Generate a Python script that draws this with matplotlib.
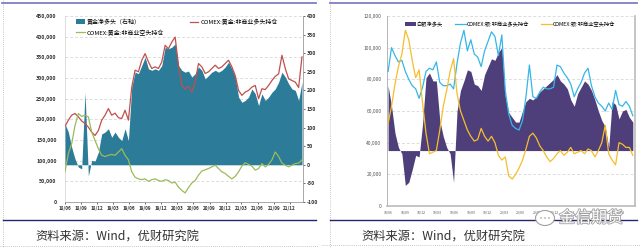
import numpy as np
import pandas as pd
import matplotlib
matplotlib.use('Agg')
import matplotlib.pyplot as plt
from matplotlib.ticker import FuncFormatter, MultipleLocator
from matplotlib.patches import Patch, Ellipse
from matplotlib.lines import Line2D
import matplotlib.patheffects as pe

plt.rcParams['font.family'] = ['Noto Sans CJK SC', 'DejaVu Sans']
plt.rcParams['axes.unicode_minus'] = False

# ---------------- data ----------------
dates = pd.date_range('2018-06-01', periods=72, freq='19D')
tick_dates = pd.date_range('2018-06-01', '2021-12-01', freq='3MS')
tick_labels = [d.strftime('%y/%m') for d in tick_dates]

# gold (left panel); long/short in thousand contracts (left axis), net on right axis
gold_long = [183, 198, 210, 214, 206, 196, 190, 181, 169, 161, 173, 198,
             210, 226, 210, 215, 204, 202, 222, 198, 278, 319, 315, 343,
             359, 339, 323, 327, 323, 339, 379, 371, 387, 399, 331, 282,
             274, 280, 266, 290, 335, 327, 311, 315, 323, 331, 323, 327,
             335, 343, 327, 306, 270, 258, 266, 270, 278, 282, 250, 274,
             272, 282, 294, 304, 310, 355, 323, 298, 294, 290, 277, 351]
gold_short = [73, 117, 141, 185, 214, 207, 210, 206, 169, 149, 129, 113,
              110, 113, 115, 113, 121, 129, 113, 102, 73, 60, 56, 54,
              56, 50, 54, 56, 52, 50, 54, 52, 46, 48, 36, 28,
              22, 35, 46, 52, 65, 75, 78, 81, 85, 89, 81, 73,
              69, 62, 56, 62, 73, 87, 95, 91, 87, 77, 81, 93,
              85, 91, 102, 121, 110, 94, 89, 85, 89, 93, 94, 102]
gold_net = [110, 88, 47, 16, -6, -11, 195, -30, 12, 10, 34, 83,
            88, 97, 74, 88, 74, 65, 97, 65, 209, 249, 245, 267,
            289, 258, 254, 258, 254, 267, 316, 312, 316, 325, 267, 254,
            249, 252, 236, 245, 263, 254, 231, 240, 249, 254, 249, 254,
            263, 276, 258, 236, 182, 168, 173, 182, 204, 191, 159, 191,
            173, 182, 195, 204, 222, 249, 236, 218, 204, 200, 173, 222]

# silver (right panel), thousand contracts
silver_long = [85, 100, 95, 91, 92, 85, 80, 76, 74, 68, 75, 85,
               87, 86, 91, 78, 76, 76, 77, 74, 90, 103, 111, 98,
               105, 96, 94, 88, 98, 104, 110, 107, 95, 108, 73, 58,
               51, 49, 48, 54, 69, 89, 69, 68, 72, 75, 74, 74,
               75, 89, 88, 84, 81, 77, 69, 74, 78, 84, 87, 76,
               69, 65, 63, 60, 65, 61, 73, 64, 63, 66, 63, 57]
silver_short = [52, 63, 77, 88, 96, 111, 105, 92, 81, 86, 65, 46,
                33, 34, 35, 48, 63, 73, 85, 93, 71, 60, 54, 48,
                44, 41, 42, 49, 44, 41, 44, 40, 32, 29, 31, 19,
                17, 20, 24, 29, 36, 44, 46, 43, 38, 35, 31, 28,
                30, 33, 35, 32, 34, 37, 33, 34, 35, 33, 36, 35,
                31, 35, 40, 51, 33, 29, 26, 40, 39, 37, 37, 32]
silver_net = [41, 28, 11, 2, -2, -22, -20, -12, -3, -4, 17, 46,
              49, 44, 44, 19, 9, 2, -2, -20, 25, 38, 44, 51,
              50, 42, 41, 38, 48, 53, 58, 57, 62, 65, 34, 24,
              21, 18, 18, 25, 31, 33, 32, 34, 37, 39, 41, 43,
              45, 48, 44, 42, 39, 32, 28, 36, 40, 44, 42, 38,
              32, 25, 19, 15, 2, 31, 29, 20, 25, 26, 21, 18]

gold_labels = ['黄金净多头（右轴）', 'COMEX:黄金:非商业空头持仓', 'COMEX:黄金:非商业多头持仓']
silver_labels = ['白银净多头', 'COMEX:银:非商业多头持仓', 'COMEX:银:非商业空头持仓']
caption = '资料来源：Wind，优财研究院'

C_TEAL = '#2C7B98'
C_RED = '#C0504D'
C_GREEN = '#9BBB59'
C_PURPLE = '#4E3F7B'
C_BLUE = '#35B6E8'
C_ORANGE = '#F7BE2B'

W, H = 640, 248
def fx(px):
    return px / W
def fy(py):
    return 1 - py / H

fig = plt.figure(figsize=(6.4, 2.48), dpi=100)
fig.patch.set_facecolor('white')
thousands = FuncFormatter(lambda v, p: f'{v:,.0f}')
grid_kw = dict(color='#cfcfcf', lw=0.5, ls=(0, (4, 3)))

# ================= LEFT PANEL =================
rectL = [fx(65), fy(202), fx(302.5) - fx(65), fy(16) - fy(202)]
ax = fig.add_axes(rectL)
ax.set_xlim(pd.Timestamp('2018-06-01'), pd.Timestamp('2022-02-12'))
ax.set_ylim(0, 450000)
ax.yaxis.set_major_locator(MultipleLocator(50000))
ax.yaxis.set_major_formatter(thousands)
ax.grid(axis='y', **grid_kw)
ax.set_xticks(tick_dates)
ax.set_xticklabels(tick_labels)
ax.tick_params(axis='x', labelsize=3.3, colors='#333333', length=1.5, width=0.5, pad=1.5)
ax.tick_params(axis='y', labelsize=3.8, colors='#333333', length=0, pad=6)
for t in ax.get_xticklabels() + ax.get_yticklabels():
    t.set_fontweight('bold')
for s in ['top', 'right']:
    ax.spines[s].set_visible(False)
ax.spines['left'].set_color('#d0d0d0')
ax.spines['left'].set_linewidth(0.5)
ax.spines['bottom'].set_color('#999999')
ax.spines['bottom'].set_linewidth(0.6)

axr = ax.twinx()
axr.set_ylim(-100, 400)
axr.yaxis.set_major_locator(MultipleLocator(50))
axr.fill_between(dates, 0, gold_net, color=C_TEAL, lw=0, zorder=2)
axr.tick_params(axis='y', labelsize=3.8, colors='#333333', length=1.5, width=0.5, pad=1.5)
for t in axr.get_yticklabels():
    t.set_fontweight('bold')
for s in ['top', 'left', 'bottom']:
    axr.spines[s].set_visible(False)
axr.spines['right'].set_color('#999999')
axr.spines['right'].set_linewidth(0.6)
axr.patch.set_visible(False)

axl = ax.twinx()
axl.set_ylim(0, 450000)
axl.axis('off')
axl.plot(dates, np.array(gold_long) * 1000, color=C_RED, lw=0.9)
axl.plot(dates, np.array(gold_short) * 1000, color=C_GREEN, lw=0.9)

hL = [Patch(facecolor=C_TEAL, edgecolor='none'),
      Line2D([], [], color=C_GREEN, lw=0.9),
      Line2D([], [], color=C_RED, lw=0.9)]
fig.legend(hL, gold_labels, ncol=2, loc='upper left',
           bbox_to_anchor=(fx(76), fy(18.5)), bbox_transform=fig.transFigure,
           frameon=False, fontsize=4.3, handlelength=1.5, handleheight=0.9,
           handletextpad=0.35, columnspacing=4.2, labelspacing=0.75,
           borderpad=0, borderaxespad=0)

# clip right-axis labels of left panel like the screenshot
fig.add_artist(plt.Rectangle((fx(317.5), 0), fx(12), 1, transform=fig.transFigure,
                             facecolor='white', edgecolor='none', zorder=5))

# ================= RIGHT PANEL =================
rectR = [fx(387), fy(206), fx(635) - fx(387), fy(16) - fy(206)]
bx = fig.add_axes(rectR)
bx.set_xlim(pd.Timestamp('2018-05-26'), pd.Timestamp('2022-02-21'))
bx.set_ylim(0, 120000)
bx.yaxis.set_major_locator(MultipleLocator(20000))
bx.yaxis.set_major_formatter(thousands)
bx.grid(axis='y', **grid_kw)
bx.set_xticks(tick_dates)
bx.set_xticklabels(tick_labels)
bx.tick_params(axis='x', labelsize=2.5, colors='#555555', length=0, pad=3)
bx.tick_params(axis='y', labelsize=3.5, colors='#555555', length=0, pad=4)
bx.spines['top'].set_visible(False)
bx.spines['left'].set_color('#aaaaaa')
bx.spines['left'].set_linewidth(0.6)
bx.spines['bottom'].set_color('#bbbbbb')
bx.spines['bottom'].set_linewidth(1.2)
bx.spines['right'].set_color('#bbbbbb')
bx.spines['right'].set_linewidth(1.2)

bxr = bx.twinx()
bxr.set_ylim(-35000, 85000)
bxr.axis('off')
bxr.fill_between(dates, 0, np.array(silver_net) * 1000, color=C_PURPLE, lw=0, zorder=2)

bxl = bx.twinx()
bxl.set_ylim(0, 120000)
bxl.axis('off')
bxl.plot(dates, np.array(silver_long) * 1000, color=C_BLUE, lw=0.9)
bxl.plot(dates, np.array(silver_short) * 1000, color=C_ORANGE, lw=0.9)

hR = [Patch(facecolor=C_PURPLE, edgecolor='none'),
      Line2D([], [], color=C_BLUE, lw=0.9),
      Line2D([], [], color=C_ORANGE, lw=0.9)]
fig.legend(hR, silver_labels, ncol=3, loc='upper left',
           bbox_to_anchor=(fx(405), fy(21.5)), bbox_transform=fig.transFigure,
           frameon=False, fontsize=3.8, handlelength=2.0, handleheight=0.9,
           handletextpad=0.2, columnspacing=2.3,
           borderpad=0, borderaxespad=0)

# ================= frame decorations =================
def hline(x0, x1, y, **kw):
    fig.add_artist(Line2D([fx(x0), fx(x1)], [fy(y), fy(y)], transform=fig.transFigure, **kw))
def vline(x, y0, y1, **kw):
    fig.add_artist(Line2D([fx(x), fx(x)], [fy(y0), fy(y1)], transform=fig.transFigure, **kw))

dot = dict(color='#b5b5b5', lw=0.6, ls=(0, (1, 1.5)), zorder=6)
vline(3, 0, 248, **dot)
hline(0, 318, 246, **dot)
vline(330, 0, 248, **dot)
hline(322, 640, 245, **dot)

hline(2, 316, 3, color='#7F7FC6', lw=1.3, zorder=6)
hline(330, 637, 3, color='#7F7FC6', lw=1.3, zorder=6)
hline(3, 316, 220, color='#25256B', lw=1.0, zorder=6)
hline(330, 637, 220, color='#25256B', lw=1.0, zorder=6)

fig.text(fx(35), fy(237), caption, fontsize=8.8, color='#333333', va='center', ha='left', zorder=7)
fig.text(fx(361), fy(237), caption, fontsize=8.8, color='#333333', va='center', ha='left', zorder=7)

# watermark
fig.add_artist(Ellipse((fx(545), fy(218)), fx(19), (15 / H), transform=fig.transFigure,
                       facecolor='white', edgecolor='#a0a0a0', lw=0.8, zorder=8))
for dx in (-4, 0, 4):
    fig.add_artist(Ellipse((fx(545 + dx), fy(218)), fx(1.5), 1.5 / H, transform=fig.transFigure,
                           facecolor='#909090', edgecolor='none', zorder=9))
fig.text(fx(559), fy(218), '金信期货', fontsize=11.5, color='white', va='center', ha='left',
         zorder=9, path_effects=[pe.withStroke(linewidth=1.2, foreground='#a0a0a0')])

fig.savefig('out.png', dpi=100, facecolor='white')
